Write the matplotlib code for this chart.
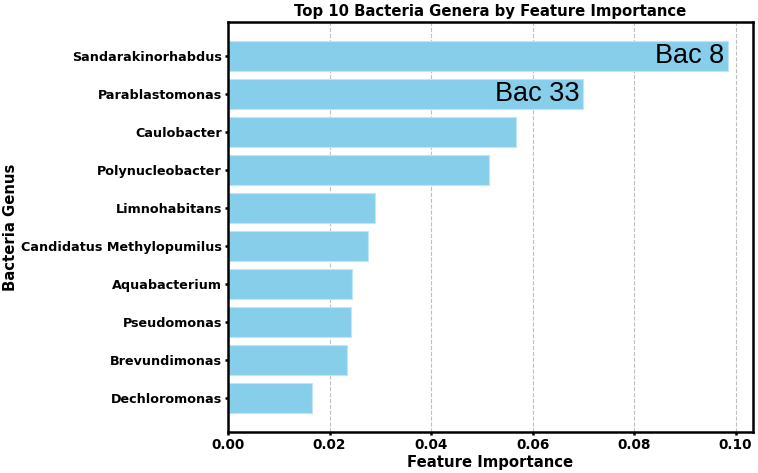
import matplotlib.pyplot as plt

# 数据
genera = ['Sandarakinorhabdus', 'Parablastomonas', 'Caulobacter', 'Polynucleobacter',
          'Limnohabitans', 'Candidatus Methylopumilus', 'Aquabacterium', 'Pseudomonas',
          'Brevundimonas', 'Dechloromonas']
importance = [0.0985, 0.0700, 0.0568, 0.0514, 0.0290, 0.0276, 0.0244, 0.0243, 0.0234, 0.0165]
bar_notes = {'Sandarakinorhabdus': 'Bac 8', 'Parablastomonas': 'Bac 33'}

plt.rcParams['font.family'] = ['DejaVu Sans']

fig = plt.figure(figsize=(7.58, 4.73), dpi=100)
ax = fig.add_axes([228 / 758, 1 - 432 / 473, (753 - 228) / 758, (432 - 22) / 473])

ypos = list(range(len(genera)))[::-1]
ax.barh(ypos, importance, height=0.8, color='skyblue', edgecolor='#bfe6f5', linewidth=0.8, zorder=2)

# 柱内注释
for y, g, v in zip(ypos, genera, importance):
    if g in bar_notes:
        ax.text(v - 0.0008, y, bar_notes[g], ha='right', va='center',
                fontsize=19.5, family=['Liberation Sans', 'DejaVu Sans'], zorder=3)

ax.set_yticks(ypos)
ax.set_yticklabels(genera, fontsize=9.2, fontweight='bold')
ax.set_xticks([0, 0.02, 0.04, 0.06, 0.08, 0.10])
ax.set_xticklabels(['0.00', '0.02', '0.04', '0.06', '0.08', '0.10'], fontsize=9.8, fontweight='bold')

ax.set_xlabel('Feature Importance', fontsize=10.7, fontweight='bold', labelpad=2)
ax.set_ylabel('Bacteria Genus', fontsize=10.7, fontweight='bold', labelpad=2)
ax.set_title('Top 10 Bacteria Genera by Feature Importance', fontsize=10.7, fontweight='bold', pad=4)

ax.grid(axis='x', linestyle='--', color='gray', alpha=0.5, linewidth=0.8, zorder=0)
ax.set_axisbelow(True)

for s in ax.spines.values():
    s.set_linewidth(1.8)
ax.tick_params(axis='both', width=1.8, length=2.5, pad=2)

fig.savefig('out.png', dpi=100)
